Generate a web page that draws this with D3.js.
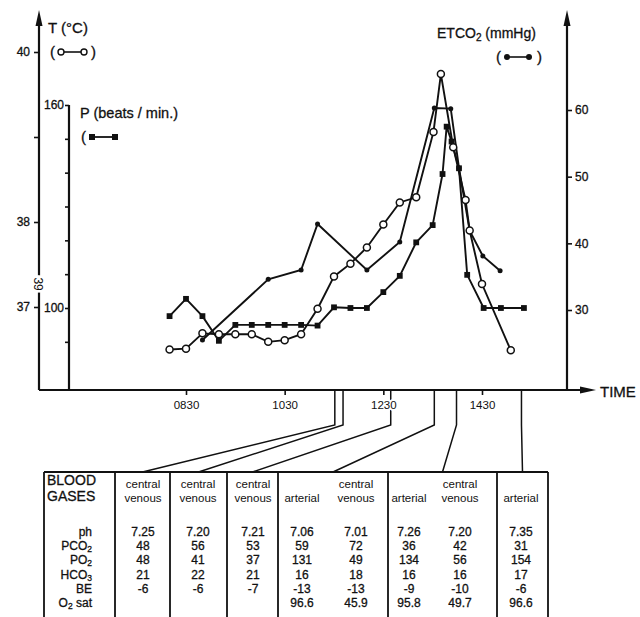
<!DOCTYPE html>
<html>
<head>
<meta charset="utf-8">
<script src="https://cdn.jsdelivr.net/npm/d3@7"></script>
<style>
  body { margin: 0; background: #fff; }
  text { font-family: "Liberation Sans", Arial, sans-serif; fill: #111; }
  text.ink { stroke: #111; stroke-width: 0.3; }
</style>
</head>
<body>
<svg id="chart" width="640" height="617"></svg>
<script>
// temperature (open circles)
var tTimes  = ["08:10","08:30","08:50","09:10","09:30","09:50","10:10","10:30","10:50","11:10","11:30","11:50",
               "12:10","12:30","12:50","13:10","13:31","13:40","13:55","14:10","14:15","14:30","15:05"];
var tValues = [36.50,36.51,36.69,36.68,36.68,36.68,36.59,36.61,36.68,36.98,37.36,37.51,
               37.70,37.97,38.23,38.29,39.06,39.74,38.88,38.26,37.90,37.27,36.49];

// pulse (filled squares)
var pTimes  = ["08:10","08:30","08:50","09:10","09:30","09:50","10:10","10:30","10:50","11:10","11:30","11:50",
               "12:10","12:30","12:50","13:10","13:30","13:42","13:47","13:53","14:02","14:12","14:32","14:53","15:21"];
var pValues = [97.6,102.7,97.6,90.3,95,95,95,95,95,94.8,100.2,100,
               100,104.7,109.5,119.4,124.5,139.6,153.6,149.2,141.3,109.8,100,100,100];

// end tidal CO2 (filled dots)
var eTimes  = ["08:50","10:10","10:50","11:10","12:10","12:50","13:32","13:52","14:02","14:15","14:31","14:52"];
var eValues = [25.5,34.6,36.0,42.9,36.0,40.2,60.3,60.2,51.3,41.9,38.1,35.9];

var xTicks = ["08:30","10:30","12:30","14:30"];
var tTicks = [37,38,39,40];
var pTicks = [90,100,110,120,130,140,150,160];
var eTicks = [30,40,50,60];

// blood gas table
var sampleTimes = ["11:31","11:41","12:39","13:32","13:59","15:18"];
var gasTypes  = ["central venous","central venous","central venous","arterial","central venous","arterial","central venous","arterial"];
var rowNames  = ["ph","PCO|2","PO|2","HCO|3","BE","O|2| sat"];
var phVals    = ["7.25","7.20","7.21","7.06","7.01","7.26","7.20","7.35"];
var pco2Vals  = ["48","56","53","59","72","36","42","31"];
var po2Vals   = ["48","41","37","131","49","134","56","154"];
var hco3Vals  = ["21","22","21","16","18","16","16","17"];
var beVals    = ["-6","-6","-7","-13","-13","-9","-10","-6"];
var o2satVals = ["","","","96.6","45.9","95.8","49.7","96.6"];
var tableRows = [phVals, pco2Vals, po2Vals, hco3Vals, beVals, o2satVals];

var parse = d3.timeParse("%H:%M");
var svg = d3.select("#chart");
svg.append("rect").attr("width", 640).attr("height", 617).attr("fill", "#fff");

var x  = d3.scaleTime().domain([parse("08:30"), parse("14:30")]).range([186, 482]);
var yT = d3.scaleLinear().domain([37, 40]).range([307, 52]);
var yP = d3.scaleLinear().domain([100, 160]).range([308, 105]);
var yE = d3.scaleLinear().domain([30, 60]).range([310, 110]);

var base = 390, leftX = 39, pX = 69, rightX = 567;

// ---- axes ----
var tAxis = svg.append("g").attr("transform", "translate(" + leftX + ",0)")
  .call(d3.axisLeft(yT).tickValues(tTicks).tickSize(5).tickPadding(4)
        .tickFormat(function(d) { return d === 39 ? "" : d; }));
var pAxis = svg.append("g").attr("transform", "translate(" + pX + ",0)")
  .call(d3.axisLeft(yP).tickValues(pTicks).tickSize(4).tickPadding(1)
        .tickFormat(function(d) { return (d === 100 || d === 160) ? d : ""; }));
var eAxis = svg.append("g").attr("transform", "translate(" + rightX + ",0)")
  .call(d3.axisRight(yE).tickValues(eTicks).tickSize(5).tickPadding(3));
var xAxis = svg.append("g").attr("transform", "translate(0," + base + ")")
  .call(d3.axisBottom(x).tickValues(xTicks.map(parse)).tickSize(5).tickPadding(6)
        .tickFormat(d3.timeFormat("%H%M")));

[tAxis, pAxis, eAxis, xAxis].forEach(function(g) {
  g.select(".domain").remove();
  g.selectAll("line").attr("stroke", "#111").attr("stroke-width", 1.6);
  g.selectAll("text").attr("font-size", 12).attr("fill", "#111")
    .style("font-family", "'Liberation Sans', Arial, sans-serif");
});
[tAxis, pAxis, eAxis].forEach(function(g) { g.selectAll("text").attr("class", "ink"); });
xAxis.selectAll("text").attr("font-size", 11.5);

// axis lines with arrows
var frame = svg.append("g").attr("stroke", "#111").attr("stroke-width", 2.2).attr("fill", "none");
frame.append("line").attr("x1", leftX).attr("x2", leftX).attr("y1", base).attr("y2", 22);
frame.append("line").attr("x1", pX).attr("x2", pX).attr("y1", base).attr("y2", yP(160));
frame.append("line").attr("x1", rightX).attr("x2", rightX).attr("y1", base).attr("y2", 22);
frame.append("line").attr("x1", leftX).attr("x2", 584).attr("y1", base).attr("y2", base);
var arrows = svg.append("g").attr("fill", "#111");
arrows.append("path").attr("d", "M" + leftX + ",10 L" + (leftX - 3.5) + ",26 L" + (leftX + 3.5) + ",26Z");
arrows.append("path").attr("d", "M" + rightX + ",10 L" + (rightX - 3.5) + ",26 L" + (rightX + 3.5) + ",26Z");
arrows.append("path").attr("d", "M596," + base + " L580," + (base - 3.5) + " L580," + (base + 3.5) + "Z");

// stray rotated 39 label on the T axis
svg.append("text").attr("transform", "translate(" + (leftX - 5) + "," + yT(37.27) + ") rotate(90)")
  .attr("text-anchor", "middle").attr("font-size", 12)
  .attr("stroke", "#fff").attr("stroke-width", 5).attr("paint-order", "stroke")
  .text("39");

// titles
svg.append("text").attr("class", "ink").attr("x", 48).attr("y", 33).attr("font-size", 15).text("T  (°C)");
svg.append("text").attr("class", "ink").attr("x", 80).attr("y", 118).attr("font-size", 14.5).text("P (beats / min.)");
var et = svg.append("text").attr("class", "ink").attr("x", 437).attr("y", 38).attr("font-size", 14);
et.append("tspan").text("ETCO");
et.append("tspan").attr("font-size", 10).attr("dy", 3).text("2");
et.append("tspan").attr("dy", -3).text("  (mmHg)");
svg.append("text").attr("class", "ink").attr("x", 600).attr("y", 397).attr("font-size", 15).text("TIME");

// ---- series ----
function lineFor(yScale) {
  return d3.line().x(function(d) { return x(parse(d[0])); }).y(function(d) { return yScale(d[1]); });
}
var eData = d3.zip(eTimes, eValues);
var pData = d3.zip(pTimes, pValues);
var tData = d3.zip(tTimes, tValues);

var plot = svg.append("g");
[[eData, yE], [pData, yP], [tData, yT]].forEach(function(s) {
  plot.append("path").datum(s[0]).attr("d", lineFor(s[1]))
    .attr("fill", "none").attr("stroke", "#111").attr("stroke-width", 1.9);
});

plot.selectAll(".edot").data(eData).enter().append("circle")
  .attr("cx", function(d) { return x(parse(d[0])); }).attr("cy", function(d) { return yE(d[1]); })
  .attr("r", 2.5).attr("fill", "#111");
plot.selectAll(".psq").data(pData).enter().append("rect")
  .attr("x", function(d) { return x(parse(d[0])) - 2.9; }).attr("y", function(d) { return yP(d[1]) - 2.9; })
  .attr("width", 5.8).attr("height", 5.8).attr("fill", "#111");
plot.selectAll(".tcirc").data(tData).enter().append("circle")
  .attr("cx", function(d) { return x(parse(d[0])); }).attr("cy", function(d) { return yT(d[1]); })
  .attr("r", 3.5).attr("fill", "#fff").attr("stroke", "#111").attr("stroke-width", 1.5);

// ---- legends ----
var leg = svg.append("g");
function legendParens(g, x0, x1, y) {
  g.append("text").attr("class", "ink").attr("x", x0).attr("y", y + 5).attr("font-size", 15).text("(");
  if (x1 !== null) g.append("text").attr("class", "ink").attr("x", x1).attr("y", y + 5).attr("font-size", 15).text(")");
}
legendParens(leg, 50, 91, 52);
leg.append("line").attr("x1", 61).attr("x2", 84).attr("y1", 52).attr("y2", 52).attr("stroke", "#111").attr("stroke-width", 1.6);
leg.selectAll(".lt").data([61, 84]).enter().append("circle").attr("cx", function(d) { return d; }).attr("cy", 52)
  .attr("r", 3).attr("fill", "#fff").attr("stroke", "#111").attr("stroke-width", 1.4);
legendParens(leg, 81, null, 137);
leg.append("line").attr("x1", 92).attr("x2", 115).attr("y1", 137).attr("y2", 137).attr("stroke", "#111").attr("stroke-width", 1.8);
leg.selectAll(".lp").data([92, 115]).enter().append("rect").attr("x", function(d) { return d - 3; }).attr("y", 134)
  .attr("width", 6).attr("height", 6).attr("fill", "#111");
legendParens(leg, 496, 537, 57);
leg.append("line").attr("x1", 507).attr("x2", 529).attr("y1", 57).attr("y2", 57).attr("stroke", "#111").attr("stroke-width", 1.6);
leg.selectAll(".le").data([507, 529]).enter().append("circle").attr("cx", function(d) { return d; }).attr("cy", 57)
  .attr("r", 3).attr("fill", "#111");

// ---- blood gas table ----
var tableTop = 472;
var groupEdges = [44, 115, 170, 227, 278, 388, 497, 548];
var colCenters = [143, 198, 253, 302, 356, 409, 460, 521];
var tbl = svg.append("g");
tbl.append("line").attr("x1", groupEdges[0]).attr("x2", groupEdges[groupEdges.length - 1])
  .attr("y1", tableTop).attr("y2", tableTop).attr("stroke", "#111").attr("stroke-width", 1.8);
tbl.selectAll(".vd").data(groupEdges).enter().append("line")
  .attr("x1", function(d) { return d; }).attr("x2", function(d) { return d; })
  .attr("y1", tableTop).attr("y2", 617).attr("stroke", "#111").attr("stroke-width", 1.8);

// leader lines from the time axis to the sample columns
var leaders = svg.append("g").attr("fill", "none").attr("stroke", "#111").attr("stroke-width", 1.5);
sampleTimes.forEach(function(s, i) {
  var sx = x(parse(s));
  var tx = (groupEdges[i + 1] + groupEdges[i + 2]) / 2;
  leaders.append("path").attr("d", "M" + sx + "," + base + " L" + sx + ",425 L" + tx + "," + tableTop);
});
// x tick labels above the leaders, with white boxes
xAxis.raise();
xAxis.selectAll("text").attr("stroke", "#fff").attr("stroke-width", 4).attr("paint-order", "stroke");

tbl.append("text").attr("class", "ink").attr("x", 47).attr("y", 485).attr("font-size", 14).text("BLOOD");
tbl.append("text").attr("class", "ink").attr("x", 47).attr("y", 501).attr("font-size", 14).text("GASES");

gasTypes.forEach(function(g, i) {
  var parts = g.split(" ");
  if (parts.length === 2) {
    tbl.append("text").attr("x", colCenters[i]).attr("y", 488).attr("text-anchor", "middle").attr("font-size", 11.5).text(parts[0]);
    tbl.append("text").attr("x", colCenters[i]).attr("y", 502).attr("text-anchor", "middle").attr("font-size", 11.5).text(parts[1]);
  } else {
    tbl.append("text").attr("x", colCenters[i]).attr("y", 502).attr("text-anchor", "middle").attr("font-size", 11.5).text(g);
  }
});

var rowY = d3.scaleLinear().domain([0, 5]).range([536, 607]);
rowNames.forEach(function(name, r) {
  var t = tbl.append("text").attr("class", "ink").attr("x", 92).attr("y", rowY(r)).attr("text-anchor", "end").attr("font-size", 12);
  name.split("|").forEach(function(part, k) {
    var sp = t.append("tspan").text(part);
    if (k === 1) sp.attr("font-size", 8.5).attr("dy", 2);
    if (k === 2) sp.attr("dy", -2);
  });
  tableRows[r].forEach(function(v, i) {
    tbl.append("text").attr("class", "ink").attr("x", colCenters[i]).attr("y", rowY(r)).attr("text-anchor", "middle")
      .attr("font-size", 12).text(v);
  });
});
</script>
</body>
</html>
